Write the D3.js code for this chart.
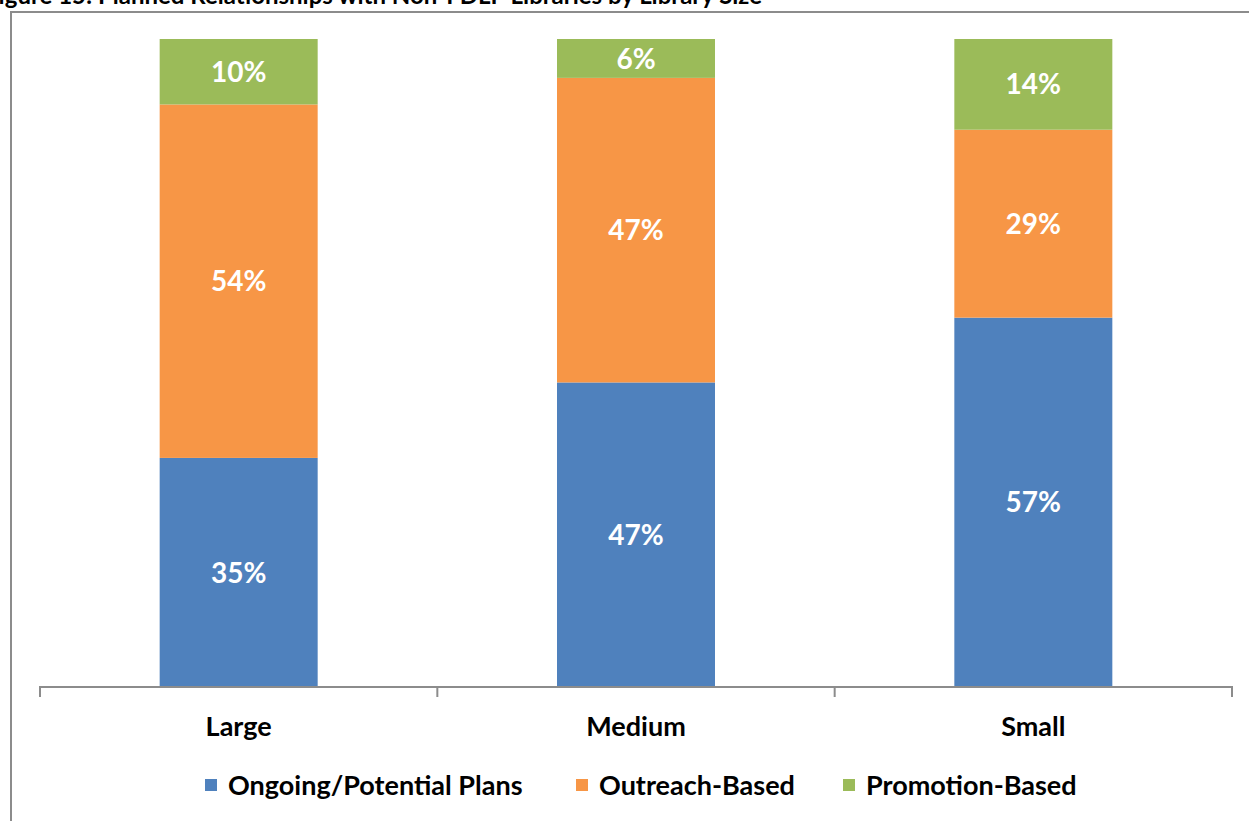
<!DOCTYPE html>
<html>
<head>
<meta charset="utf-8">
<script src="https://cdn.jsdelivr.net/npm/d3@7"></script>
<style>
  body { margin: 0; background: #fff; }
  text { font-family: Lato, "Open Sans", sans-serif; font-weight: bold; }
</style>
</head>
<body>
<div id="chart"></div>
<script>
// data
var sizes = ["Large", "Medium", "Small"]
var seriesNames = ["Ongoing/Potential Plans", "Outreach-Based", "Promotion-Based"]
var ongoing = [35, 47, 57]
var outreach = [54, 47, 29]
var promotion = [10, 6, 14]
var seriesColors = ["#4f81bd", "#f79646", "#9bbb59"]
var titleText = "Figure 15: Planned Relationships with Non-FDLP Libraries by Library Size"

var W = 1249, H = 821
var margin = { top: 39, left: 40, right: 17, bottom: 134 }
var width = W - margin.left - margin.right,
    height = H - margin.top - margin.bottom

var svg = d3.select("#chart").append("svg")
  .attr("width", W).attr("height", H)

// title, cut off at the top as in the source image
svg.append("text")
  .attr("x", 762).attr("y", 4)
  .attr("text-anchor", "end")
  .style("font-size", "24px")
  .style("fill", "#000")
  .text(titleText)

// chart frame (top + left)
svg.append("path")
  .attr("d", "M11," + H + "V12H" + W)
  .attr("fill", "none")
  .attr("stroke", "#8c8c8c")
  .attr("stroke-width", 2)

var g = svg.append("g")
  .attr("transform", "translate(" + margin.left + "," + margin.top + ")")

// table built from the arrays, normalised to 100%
var rows = sizes.map(function(s, i) {
  var tot = ongoing[i] + outreach[i] + promotion[i]
  return { size: s, a: ongoing[i] / tot, b: outreach[i] / tot, c: promotion[i] / tot,
           raw: [ongoing[i], outreach[i], promotion[i]] }
})
var stack = d3.stack().keys(["a", "b", "c"])(rows)

var x = d3.scaleBand().domain(sizes).range([0, width]).paddingInner(0).paddingOuter(0)
var y = d3.scaleLinear().domain([0, 1]).range([height, 0])
var barW = 158

var layers = g.selectAll(".layer")
  .data(stack).enter().append("g")
  .attr("fill", function(d, i) { return seriesColors[i] })

layers.selectAll("rect")
  .data(function(d) { return d.map(function(p) { p.idx = d.index; return p }) })
  .enter().append("rect")
  .attr("x", function(d) { return x(d.data.size) + x.bandwidth() / 2 - barW / 2 })
  .attr("y", function(d) { return y(d[1]) })
  .attr("width", barW)
  .attr("height", function(d) { return y(d[0]) - y(d[1]) })

layers.selectAll("text")
  .data(function(d) { return d })
  .enter().append("text")
  .attr("x", function(d) { return x(d.data.size) + x.bandwidth() / 2 })
  .attr("y", function(d) { return (y(d[0]) + y(d[1])) / 2 })
  .attr("dy", "0.36em")
  .attr("text-anchor", "middle")
  .style("fill", "#fff")
  .style("font-size", "28px")
  .text(function(d) { return d.data.raw[d.idx] + "%" })

// x axis
var xAxis = g.append("g")
  .attr("transform", "translate(0," + height + ")")
  .call(d3.axisBottom(x).tickSize(0).tickPadding(30))
xAxis.select(".domain").attr("stroke", "#8c8c8c").attr("stroke-width", 2)
  .attr("d", "M0,10V0H" + width + "V10")
xAxis.selectAll(".tick text")
  .style("font-size", "27px").style("fill", "#000")
  .style("font-family", "Lato, 'Open Sans', sans-serif")
xAxis.selectAll(".sep")
  .data(sizes.slice(1)).enter().append("line")
  .attr("class", "sep")
  .attr("x1", function(d) { return x(d) }).attr("x2", function(d) { return x(d) })
  .attr("y1", 0).attr("y2", 10)
  .attr("stroke", "#8c8c8c").attr("stroke-width", 2)

// legend
var legendX = [205, 576, 843]
var legend = svg.append("g").selectAll("g")
  .data(seriesNames).enter().append("g")
  .attr("transform", function(d, i) { return "translate(" + legendX[i] + ",785)" })
legend.append("rect")
  .attr("x", 0).attr("y", -6).attr("width", 12).attr("height", 12)
  .attr("fill", function(d, i) { return seriesColors[i] })
legend.append("text")
  .attr("x", 23).attr("dy", "0.36em")
  .style("font-size", "27px").style("fill", "#000")
  .text(function(d) { return d })
</script>
</body>
</html>
